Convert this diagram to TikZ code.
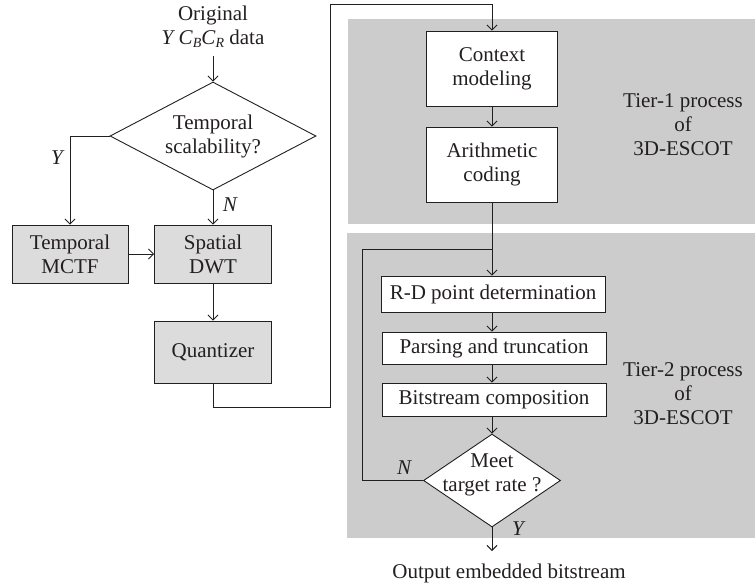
\documentclass[tikz,border=0pt]{standalone}
\usepackage{fontspec}
\setmainfont{Liberation Serif}
\usetikzlibrary{arrows.meta,shapes.geometric}
\definecolor{ink}{HTML}{231F20}
\definecolor{boxgray}{HTML}{DCDCDC}
\definecolor{tiergray}{HTML}{CCCCCC}
\begin{document}
\begin{tikzpicture}[x=1pt,y=-1pt,
  font=\fontsize{21}{24}\selectfont,
  every node/.style={text=ink},
  line width=0.9pt,
  conn/.style={draw=ink},
  arr/.style={conn,-{Straight Barb[length=5pt,width=10pt]}},
  graybox/.style={draw=ink,fill=boxgray,rectangle,inner sep=0pt,align=center},
  whitebox/.style={draw=ink,fill=white,rectangle,inner sep=0pt,align=center},
  decision/.style={draw=ink,fill=white,diamond,inner sep=0pt},
  txt/.style={align=center,inner sep=0pt},
  lbl/.style={inner sep=0pt,font=\fontsize{21}{24}\selectfont\itshape}
]
\useasboundingbox (0,0) rectangle (755,587);
% tier regions
\fill[tiergray] (348,19) rectangle (755,224);
\fill[tiergray] (347,233) rectangle (755,538);

% left column
\node[txt] (orig) at (213,27) {Original\\\textit{Y}\,\textit{C}\raisebox{-0.3ex}{\fontsize{14}{14}\selectfont\textit{B}}\textit{C}\raisebox{-0.3ex}{\fontsize{14}{14}\selectfont\textit{R}} data};
\node[decision,minimum width=206pt,minimum height=108pt,
  label={[txt]center:Temporal\\scalability?}] (d1) at (213,136) {};
\node[graybox,minimum width=116pt,minimum height=58pt] (mctf) at (70,254) {Temporal\\MCTF};
\node[graybox,minimum width=117pt,minimum height=58pt] (dwt) at (213,254) {Spatial\\DWT};
\node[graybox,minimum width=117pt,minimum height=62pt] (quant) at (213,352) {Quantizer};

% right column
\node[whitebox,minimum width=131pt,minimum height=75pt] (ctx) at (492,68.5) {Context\\modeling};
\node[whitebox,minimum width=131pt,minimum height=75pt] (arith) at (492,164.5) {Arithmetic\\coding};
\node[whitebox,minimum width=224pt,minimum height=36pt] (rd) at (493,294) {R-D point determination};
\node[whitebox,minimum width=224pt,minimum height=32pt] (pars) at (494,348) {Parsing and truncation};
\node[whitebox,minimum width=224pt,minimum height=33pt] (bits) at (494,399.5) {Bitstream composition};
\node[decision,minimum width=137pt,minimum height=93pt,
  label={[txt,yshift=6pt]center:Meet\\target rate ?}] (d2) at (492,480.5) {};
\node[txt] (out) at (509,573) {Output embedded bitstream};

\node[txt] (t1) at (683,125) {Tier-1 process\\of\\3D-ESCOT};
\node[txt] (t2) at (683,394) {Tier-2 process\\of\\3D-ESCOT};

% labels
\node[lbl] (ly1) at (57,158) {Y};
\node[lbl] (ln1) at (230,205) {N};
\node[lbl] (ln2) at (404,468) {N};
\node[lbl] (ly2) at (518,529) {Y};

% coordinates
\coordinate (q1) at (213,407);
\coordinate (q2) at (330,407);
\coordinate (q3) at (330,4);
\coordinate (q4) at (492,4);
\coordinate (j) at (492,249);
\coordinate (l1) at (362,480.5);
\coordinate (l2) at (362,249);
\coordinate (oute) at (492,551);
\coordinate (os) at (213,56);

% connectors
\draw[arr] (os) -- (d1.north);
\draw[arr] (d1.west) -| (mctf.north);
\draw[arr] (d1.south) -- (dwt.north);
\draw[arr] (mctf.east) -- (dwt.west);
\draw[arr] (dwt.south) -- (quant.north);
\draw[arr] (quant.south) -- (q1) -- (q2) -- (q3) -- (q4) -- (ctx.north);
\draw[arr] (ctx.south) -- (arith.north);
\draw[arr] (arith.south) -- (rd.north -| arith.south);
\draw[arr] (rd.south -| j) -- (pars.north -| j);
\draw[arr] (pars.south -| j) -- (bits.north -| j);
\draw[arr] (bits.south -| j) -- (d2.north);
\draw[conn] (d2.west) -- (l1) -- (l2) -- (j);
\draw[arr] (d2.south) -- (oute);
\end{tikzpicture}
\end{document}
